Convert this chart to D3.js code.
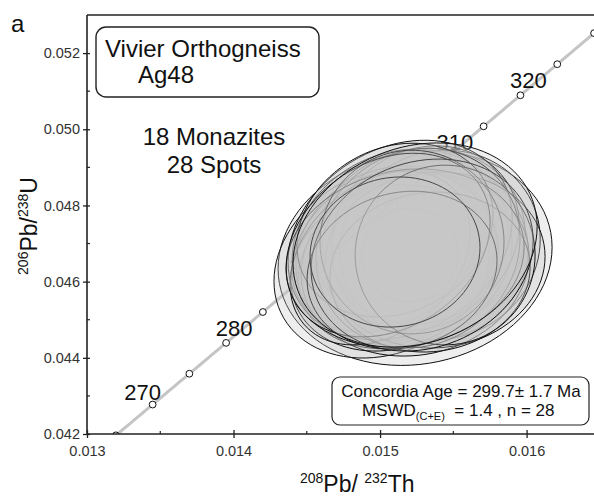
<!DOCTYPE html>
<html>
<head>
<meta charset="utf-8">
<script src="https://cdn.jsdelivr.net/npm/d3@7/dist/d3.min.js"></script>
<style>
  html, body { margin: 0; padding: 0; background: #fff; }
  svg { display: block; font-family: "Liberation Sans", Arial, sans-serif; }
</style>
</head>
<body>
<svg id="chart" width="594" height="496"></svg>
<script>
// ---------- data ----------
const xTicks = [0.013, 0.014, 0.015, 0.016];
const yTicks = [0.042, 0.044, 0.046, 0.048, 0.050, 0.052];
const xMinorTicks = [0.0135, 0.0145, 0.0155];
const yMinorTicks = [0.043, 0.045, 0.047, 0.049, 0.051];
const markerAges = [265, 270, 275, 280, 285, 290, 295, 300, 305, 310, 315, 320, 325, 330];
const labelAges = [270, 280, 290, 300, 310, 320];
// decay constants (per year)
const lambda232 = 4.9475e-11;
const lambda238 = 1.55125e-10;

// Ellipses: 208Pb/232Th centre, 206Pb/238U centre, half-widths (2s) and correlation
const spotTh  = [0.015239, 0.015034, 0.015205, 0.015137, 0.015273, 0.015102, 0.015341, 0.015171,
                 0.015034, 0.015410, 0.015239, 0.015068, 0.015307, 0.015205, 0.015137, 0.015375,
                 0.015000, 0.015259, 0.015102, 0.015341, 0.015171, 0.015218, 0.015055, 0.015444,
                 0.015150, 0.015287, 0.015102, 0.015239];
const spotU   = [0.046620, 0.046514, 0.046698, 0.046961, 0.047092, 0.046698, 0.046829, 0.046514,
                 0.046829, 0.046961, 0.046436, 0.046357, 0.047223, 0.046829, 0.047092, 0.046567,
                 0.046619, 0.046882, 0.047354, 0.046252, 0.046619, 0.047039, 0.046961, 0.046698,
                 0.046304, 0.046698, 0.046777, 0.046961];
const spotSTh = [0.000935, 0.000758, 0.000328, 0.000737, 0.000717, 0.000676, 0.000669, 0.000730,
                 0.000635, 0.000683, 0.000778, 0.000676, 0.000642, 0.000601, 0.000765, 0.000751,
                 0.000614, 0.000696, 0.000669, 0.000683, 0.000812, 0.000628, 0.000696, 0.000614,
                 0.000648, 0.000758, 0.000580, 0.000833];
const spotSU  = [0.00282, 0.00252, 0.00123, 0.00252, 0.00241, 0.00234, 0.00236, 0.00228,
                 0.00215, 0.00249, 0.00239, 0.00218, 0.00234, 0.00210, 0.00262, 0.00231,
                 0.00228, 0.00262, 0.00228, 0.00210, 0.00234, 0.00241, 0.00241, 0.00236,
                 0.00207, 0.00252, 0.00197, 0.00268];
const spotRho = [0.10, 0.20, 0.00, 0.15, 0.08, 0.12, 0.00, 0.20,
                 0.25, 0.06, 0.10, 0.15, 0.12, 0.00, 0.22, 0.04,
                 0.30, 0.10, 0.18, 0.06, 0.12, 0.00, 0.25, 0.00,
                 0.12, 0.15, 0.06, 0.18];

const panelLabel = "a";
const titleLine1 = "Vivier Orthogneiss";
const titleLine2 = "Ag48";
const noteLine1 = "18 Monazites";
const noteLine2 = "28 Spots";
const resultLine1 = "Concordia Age = 299.7\u00b1 1.7 Ma";

// ---------- layout ----------
const svg = d3.select("#chart");
const L = 87, R = 594, T = 15, B = 434;
const x = d3.scaleLinear().domain([0.013, 0.01646]).range([L, R]);
const y = d3.scaleLinear().domain([0.042, 0.053]).range([B, T]);

svg.append("defs").append("clipPath").attr("id", "plotClip")
  .append("rect").attr("x", L).attr("y", T).attr("width", R - L).attr("height", B - T);

const plot = svg.append("g").attr("clip-path", "url(#plotClip)");

// concordia curve
const th = t => Math.exp(lambda232 * t * 1e6) - 1;
const u  = t => Math.exp(lambda238 * t * 1e6) - 1;
const curveAges = d3.range(255, 340.01, 0.5);
plot.append("path")
  .datum(curveAges)
  .attr("d", d3.line().x(t => x(th(t))).y(t => y(u(t))))
  .attr("fill", "none").attr("stroke", "#c4c4c4").attr("stroke-width", 3);

plot.selectAll("circle.age").data(markerAges).join("circle")
  .attr("class", "age")
  .attr("cx", t => x(th(t))).attr("cy", t => y(u(t))).attr("r", 3.4)
  .attr("fill", "#fff").attr("stroke", "#111").attr("stroke-width", 1);

plot.selectAll("text.age").data(labelAges).join("text")
  .attr("class", "age")
  .attr("x", t => x(th(t)) + (t === labelAges[0] ? -10 : 8))
  .attr("y", t => y(u(t)) + (t === labelAges[0] ? -5 : -7))
  .attr("text-anchor", "middle")
  .attr("font-size", 22).attr("fill", "#111")
  .text(t => t);

// error ellipses
const ellipsePath = i => {
  const pts = d3.range(0, 360, 4).map(a => {
    const r = a * Math.PI / 180;
    const px = spotTh[i] + spotSTh[i] * Math.cos(r);
    const py = spotU[i] + spotSU[i] * (spotRho[i] * Math.cos(r) + Math.sqrt(1 - spotRho[i] * spotRho[i]) * Math.sin(r));
    return [x(px), y(py)];
  });
  return d3.line().curve(d3.curveCardinalClosed)(pts);
};
plot.selectAll("path.ell").data(d3.range(spotTh.length)).join("path")
  .attr("class", "ell")
  .attr("d", ellipsePath)
  .attr("fill", "#c6c6c6").attr("fill-opacity", 0.3)
  .attr("stroke", "#111").attr("stroke-width", 1);

// axes frame
const frame = svg.append("g").attr("stroke", "#222").attr("stroke-width", 1.6).attr("fill", "none");
frame.append("line").attr("x1", L).attr("x2", L).attr("y1", T).attr("y2", B);
frame.append("line").attr("x1", L).attr("x2", R).attr("y1", T).attr("y2", T);
frame.append("line").attr("x1", L).attr("x2", R).attr("y1", B).attr("y2", B);

// x axis
const xAxis = d3.axisBottom(x).tickValues(xTicks).tickFormat(d3.format(".3f")).tickSize(4).tickSizeOuter(0);
const gx = svg.append("g").attr("transform", `translate(0,${B})`).call(xAxis);
gx.select(".domain").remove();
gx.selectAll(".tick line").attr("y1", -4).attr("y2", 4).attr("stroke", "#222").attr("stroke-width", 1.3);
gx.selectAll(".tick text").attr("y", 12).attr("dy", "0.71em").attr("font-size", 14.5).attr("fill", "#333")
  .attr("font-family", "Liberation Sans, Arial, sans-serif");
svg.append("g").selectAll("line").data(xMinorTicks).join("line")
  .attr("x1", d => x(d)).attr("x2", d => x(d)).attr("y1", B - 3).attr("y2", B)
  .attr("stroke", "#222").attr("stroke-width", 1.2);

// y axis
const yAxis = d3.axisLeft(y).tickValues(yTicks).tickFormat(d3.format(".3f")).tickSize(4).tickSizeOuter(0);
const gy = svg.append("g").attr("transform", `translate(${L},0)`).call(yAxis);
gy.select(".domain").remove();
gy.selectAll(".tick line").attr("x1", -4).attr("x2", 3).attr("stroke", "#222").attr("stroke-width", 1.3);
gy.selectAll(".tick text").attr("x", -7).attr("font-size", 14.5).attr("fill", "#333")
  .attr("font-family", "Liberation Sans, Arial, sans-serif");
svg.append("g").selectAll("line").data(yMinorTicks).join("line")
  .attr("x1", L).attr("x2", L + 3).attr("y1", d => y(d)).attr("y2", d => y(d))
  .attr("stroke", "#222").attr("stroke-width", 1.2);

// axis titles
const xt = svg.append("text").attr("x", 300).attr("y", 492).attr("font-size", 23).attr("fill", "#111");
xt.append("tspan").attr("font-size", 14).attr("dy", -9).text("208");
xt.append("tspan").attr("dy", 9).text("Pb/ ");
xt.append("tspan").attr("font-size", 14).attr("dy", -9).text("232");
xt.append("tspan").attr("dy", 9).text("Th");

const yt = svg.append("text").attr("transform", "translate(37,226) rotate(-90)")
  .attr("text-anchor", "middle").attr("font-size", 23).attr("fill", "#111");
yt.append("tspan").attr("font-size", 14).attr("dy", -9).text("206");
yt.append("tspan").attr("dy", 9).text("Pb/");
yt.append("tspan").attr("font-size", 14).attr("dy", -9).text("238");
yt.append("tspan").attr("dy", 9).text("U");

// panel label
svg.append("text").attr("x", 11).attr("y", 32).attr("font-size", 24).attr("fill", "#111").text(panelLabel);

// title box
svg.append("rect").attr("x", 96).attr("y", 27).attr("width", 223).attr("height", 70)
  .attr("rx", 10).attr("fill", "#fff").attr("stroke", "#222").attr("stroke-width", 1.4);
svg.append("text").attr("x", 105).attr("y", 57).attr("font-size", 24).attr("fill", "#111").text(titleLine1);
svg.append("text").attr("x", 138).attr("y", 83).attr("font-size", 24).attr("fill", "#111").text(titleLine2);

svg.append("text").attr("x", 214).attr("y", 145).attr("text-anchor", "middle").attr("font-size", 24).attr("fill", "#111").text(noteLine1);
svg.append("text").attr("x", 214).attr("y", 173).attr("text-anchor", "middle").attr("font-size", 24).attr("fill", "#111").text(noteLine2);

// result box
svg.append("rect").attr("x", 332).attr("y", 377).attr("width", 257).attr("height", 48)
  .attr("rx", 8).attr("fill", "#fff").attr("stroke", "#222").attr("stroke-width", 1.2);
svg.append("text").attr("x", 461).attr("y", 397).attr("text-anchor", "middle").attr("font-size", 17).attr("fill", "#111").text(resultLine1);
const rt = svg.append("text").attr("x", 362).attr("y", 416).attr("font-size", 17).attr("fill", "#111");
rt.append("tspan").text("MSWD");
rt.append("tspan").attr("font-size", 11).attr("dy", 4).text("(C+E)");
rt.append("tspan").attr("dy", -4).text("  = 1.4 , n = 28").attr("xml:space", "preserve");
</script>
</body>
</html>
